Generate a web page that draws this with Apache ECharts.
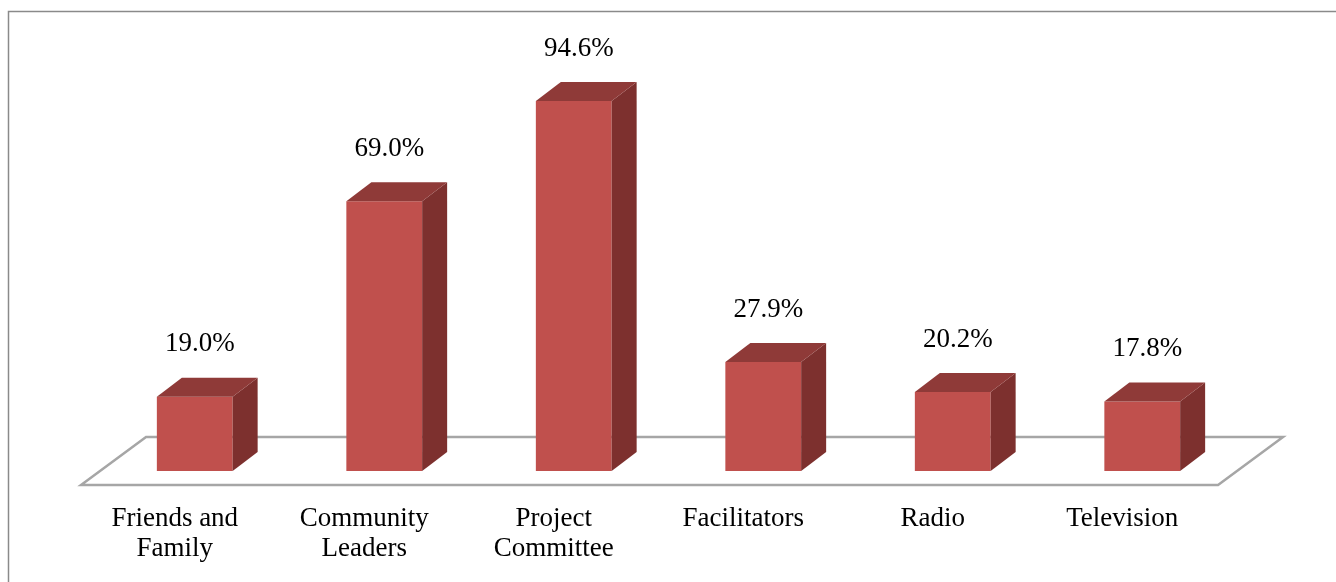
<!DOCTYPE html>
<html>
<head>
<meta charset="utf-8">
<script src="https://cdn.jsdelivr.net/npm/echarts@6/dist/echarts.min.js"></script>
<style>
  html, body { margin: 0; padding: 0; background: #fff; }
  #chart { width: 1336px; height: 582px; }
</style>
</head>
<body>
<div id="chart"></div>
<script>
var categories = ['Friends and\nFamily', 'Community\nLeaders', 'Project\nCommittee', 'Facilitators', 'Radio', 'Television'];
var percents = [19.0, 69.0, 94.6, 27.9, 20.2, 17.8];

var chart = echarts.init(document.getElementById('chart'));

// depth of the fake 3d look
var barDx = 25, barDy = 19;
var floorFront = 14, floorBack = 34, slope = 65 / 48;

function drawBar(params, api) {
    var idx = api.value(0);
    var v = api.value(1);
    var base = api.coord([idx, 0]);
    var top = api.coord([idx, v]);
    var w = api.size([1, 0])[0] * 0.4;
    var x0 = base[0] - w / 2, x1 = base[0] + w / 2;
    var yt = top[1], yb = base[1];
    return {
        type: 'group',
        children: [
            {
                type: 'rect',
                shape: { x: x0, y: yt, width: w, height: yb - yt },
                style: { fill: '#C0504D' }
            },
            {
                type: 'polygon',
                shape: { points: [[x1, yt], [x1 + barDx, yt - barDy], [x1 + barDx, yb - barDy], [x1, yb]] },
                style: { fill: '#7D302E' }
            },
            {
                type: 'polygon',
                shape: { points: [[x0, yt], [x0 + barDx, yt - barDy], [x1 + barDx, yt - barDy], [x1, yt]] },
                style: { fill: '#8F3A38' }
            },
            {
                type: 'text',
                style: {
                    text: v.toFixed(1) + '%',
                    x: base[0] + 5,
                    y: yt - 39,
                    align: 'center',
                    verticalAlign: 'bottom',
                    font: '27px "Liberation Serif"',
                    fill: '#000'
                }
            }
        ]
    };
}

function drawFloor(params, api) {
    var cs = params.coordSys;
    var yb = cs.y + cs.height;
    var left = cs.x, right = cs.x + cs.width;
    var pts = [
        [left - floorFront * slope, yb + floorFront],
        [right - floorFront * slope, yb + floorFront],
        [right + floorBack * slope, yb - floorBack],
        [left + floorBack * slope, yb - floorBack]
    ];
    return {
        type: 'polygon',
        shape: { points: pts },
        style: { fill: '#fff', stroke: '#A6A6A6', lineWidth: 2.5 }
    };
}

var option = {
    animation: false,
    graphic: [{
        type: 'rect',
        shape: { x: 8.5, y: 11.5, width: 1400, height: 700 },
        style: { fill: 'none', stroke: '#8A8A8A', lineWidth: 1.5 },
        silent: true
    }],
    grid: { left: 100, right: 99, top: 80, bottom: 111 },
    xAxis: {
        type: 'category',
        data: categories,
        axisLine: { show: false },
        axisTick: { show: false },
        axisLabel: {
            interval: 0,
            margin: 33,
            padding: [0, 40, 0, 0],
            fontFamily: 'Liberation Serif',
            fontSize: 27,
            lineHeight: 30,
            color: '#000'
        }
    },
    yAxis: { type: 'value', min: 0, max: 100, show: false },
    series: [
        {
            type: 'custom',
            z: 1,
            renderItem: drawFloor,
            data: [[0, 0]]
        },
        {
            type: 'custom',
            z: 2,
            renderItem: drawBar,
            data: percents.map(function (p, i) { return [i, p]; })
        }
    ]
};
chart.setOption(option);
</script>
</body>
</html>
